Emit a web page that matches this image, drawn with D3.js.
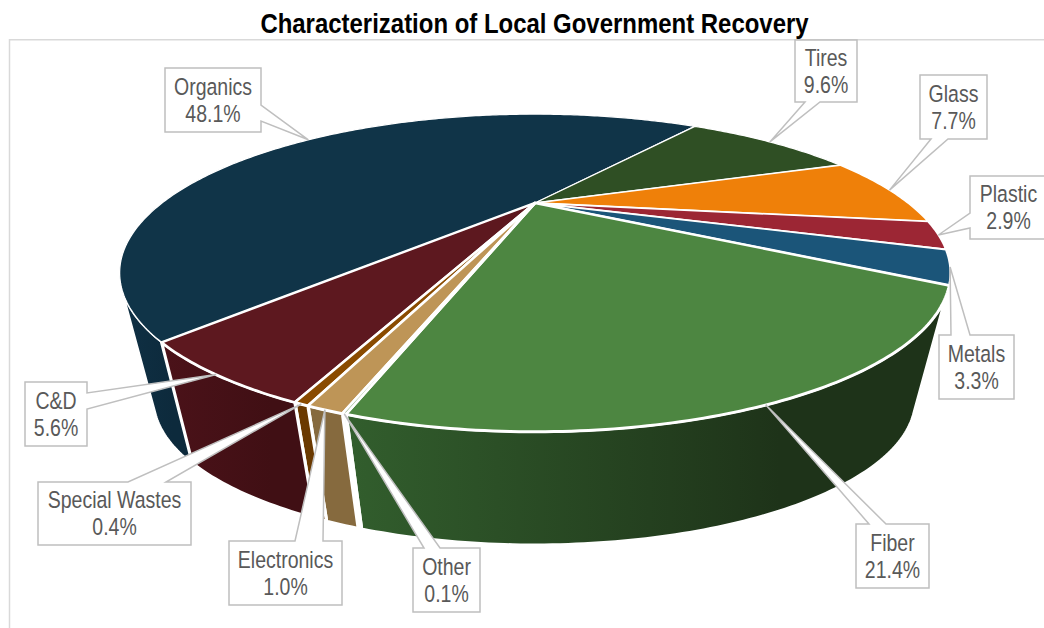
<!DOCTYPE html>
<html><head><meta charset="utf-8">
<script src="https://cdn.jsdelivr.net/npm/d3@7/dist/d3.min.js"></script>
<style>html,body{margin:0;padding:0;background:#fff;overflow:hidden}svg{display:block}</style>
</head><body><svg id="c" width="1044" height="628"></svg>
<script>
const chartTitle = "Characterization of Local Government Recovery";
const categories = ["Organics","Tires","Glass","Plastic","Metals","Fiber","Other","Electronics","Special Wastes","C&D"];
const shares = [48.1,9.6,7.7,2.9,3.3,21.4,0.1,1.0,0.4,5.6];
const topColors = ["#103448","#2f4f24","#ef8009","#9c2634","#1b5579","#4d8641","#7f9f70","#be9557","#8a4b00","#5d181f"];
const wallLeft  = ["#0f3044","#2f4f24","#a85a06","#6e1b25","#133c56","#325e2d","#557050","#866a3e","#6a3900","#4b1219"];
const wallRight = ["#0d2a3c","#1e3319","#a85a06","#6e1b25","#133c56","#1e3319","#557050","#866a3e","#6a3900","#400f14"];
// callout layout: box x0,y0,x1,y1, side carrying the pointer, pointer base a,b along the side
const calloutBoxes = [
 [165,68,261,132,"r",105,121],[795,40,857,102,"b",805,820],[920,75,987,139,"b",931,948],
 [970,176,1047,239,"l",213,228],[939,335,1014,399,"t",951,970],[856,524,929,588,"t",869,886],
 [413,548,480,612,"t",424,440],[229,541,342,605,"t",295,323],[38,482,191,545,"t",128,166],
 [25,382,87,446,"r",393,409]];

const svg = d3.select("#c");
const rad = Math.PI/180;
const tilt = 0.44, cx = 535, cy = 203;
const sx = d3.scaleLinear().domain([-1,1]).range([-373,373]);
const sy = d3.scaleLinear().domain([-1,1]).range([-128,128]);
const vanishY = 1800, shrink = 0.917, axisX = 533;
function topPt(a){ const u=Math.sin(a), v=-Math.cos(a), w=1-tilt*v; return [cx+sx(u)/w, cy+sy(v)/w, w]; }
function basePt(a){ const p=topPt(a); return [axisX+shrink*(p[0]-axisX), vanishY+shrink*(p[1]-vanishY)]; }
function arcAngles(s,e){ const n=Math.max(2,Math.ceil((e-s)/(0.75*rad))); return d3.range(n+1).map(i=>s+(e-s)*i/n); }
const pie = d3.pie().sort(null).startAngle(-137.4*rad).endAngle(222.6*rad);
const arcs = pie(shares);
const line = d3.line();
const defs = svg.append("defs");

// range of rim angles whose wall faces the viewer: walk from the front until the rim turns away
function facing(a){ const p=topPt(a), q=topPt(a+0.001); return (q[0]-p[0])*(vanishY-p[1])-(q[1]-p[1])*(axisX-p[0])<0; }
let frontLo=Math.PI, frontHi=Math.PI;
while(facing(frontLo-rad/4)) frontLo-=rad/4;
while(facing(frontHi+rad/4)) frontHi+=rad/4;
function frontPart(d){
  const off = d.startAngle<0 ? 2*Math.PI : 0;
  const s=Math.max(d.startAngle+off,frontLo), e=Math.min(d.endAngle+off,frontHi);
  return e>s ? [s,e] : null;
}

// frame
svg.append("path").attr("d","M9.5,628V39.75H1044").attr("fill","none").attr("stroke","#d9d9d9").attr("stroke-width",1.5);

// gradients for walls
arcs.forEach((d,i)=>{
  const g = defs.append("linearGradient").attr("id","w"+i).attr("x1",0).attr("x2",1).attr("y1",0).attr("y2",0);
  g.append("stop").attr("offset",0).attr("stop-color",wallLeft[i]);
  g.append("stop").attr("offset",0.72).attr("stop-color",wallRight[i]);
});
const sw = d => 0.2+1.4/topPt((d.startAngle+d.endAngle)/2)[2];

// walls
const visibleWalls = arcs.map((d,i)=>({d,i,part:frontPart(d)})).filter(o=>o.part);
svg.append("g").selectAll("path").data(visibleWalls).join("path")
  .attr("d",o=>{ const as=arcAngles(o.part[0],o.part[1]); return line(as.map(topPt).map(p=>[p[0],p[1]]).concat(as.slice().reverse().map(basePt)))+"Z"; })
  .attr("fill",o=>`url(#w${o.i})`).attr("stroke","#fff").attr("stroke-width",o=>1.3*sw(o.d)).attr("stroke-linejoin","round");

// top faces, back to front
const order = d3.range(arcs.length).sort((a,b)=>topPt((arcs[b].startAngle+arcs[b].endAngle)/2)[2]-topPt((arcs[a].startAngle+arcs[a].endAngle)/2)[2]);
svg.append("g").selectAll("path").data(order.map(i=>({d:arcs[i],i}))).join("path")
  .attr("d",o=>line([[cx,cy]].concat(arcAngles(o.d.startAngle,o.d.endAngle).map(topPt).map(p=>[p[0],p[1]])))+"Z")
  .attr("fill",o=>topColors[o.i]).attr("stroke","#fff").attr("stroke-width",o=>sw(o.d)).attr("stroke-linejoin","round");

// callouts
const cg = svg.append("g");
const labelFont = "'Liberation Sans',Arial,sans-serif";
arcs.forEach((d,i)=>{
  const [x0,y0,x1,y1,side,a,b] = calloutBoxes[i];
  const t = topPt((d.startAngle+d.endAngle)/2); const tip=[t[0],t[1]];
  let pts;
  if(side==="t") pts=[[x0,y0],[a,y0],tip,[b,y0],[x1,y0],[x1,y1],[x0,y1]];
  if(side==="b") pts=[[x0,y0],[x1,y0],[x1,y1],[b,y1],tip,[a,y1],[x0,y1]];
  if(side==="r") pts=[[x0,y0],[x1,y0],[x1,a],tip,[x1,b],[x1,y1],[x0,y1]];
  if(side==="l") pts=[[x0,y0],[x1,y0],[x1,y1],[x0,y1],[x0,b],tip,[x0,a]];
  cg.append("path").attr("d",line(pts)+"Z").attr("fill","#fff").attr("stroke","#bfbfbf").attr("stroke-width",1.5);
  const tx=(x0+x1)/2, ym=(y0+y1)/2;
  const text = cg.append("text").attr("text-anchor","middle").attr("fill","#595959")
    .attr("transform",`translate(${tx},0) scale(0.83,1)`)
    .attr("font-family",labelFont).attr("font-size",23.5);
  text.append("tspan").attr("x",0).attr("y",ym-5).text(categories[i]);
  text.append("tspan").attr("x",0).attr("y",ym+22).text(shares[i].toFixed(1)+"%");
});

svg.append("text").attr("transform","translate(534.5,33) scale(0.887,1)").attr("text-anchor","middle")
  .attr("font-family",labelFont).attr("font-weight","bold").attr("font-size",27)
  .attr("fill","#000").text(chartTitle);
</script></body></html>
